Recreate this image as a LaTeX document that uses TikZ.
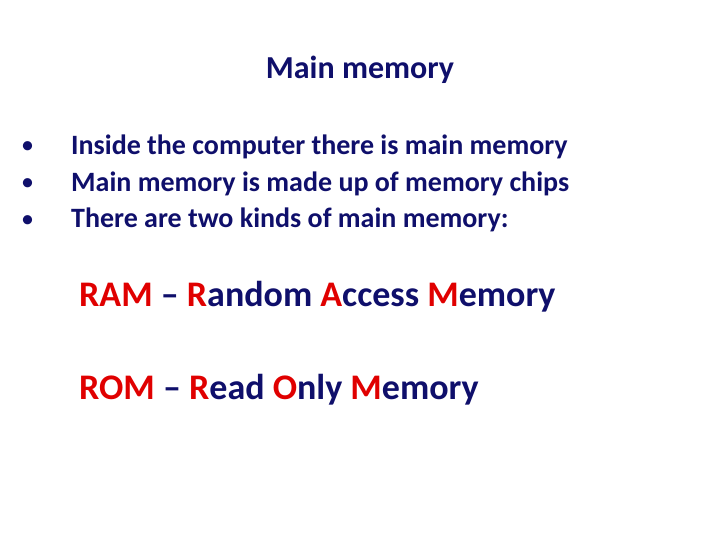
\documentclass[tikz,border=0pt]{standalone}
\usepackage{fontspec}
\setmainfont{Carlito}
\definecolor{navy}{HTML}{0F0F6B}
\definecolor{rd}{HTML}{E00000}
\begin{document}
\begin{tikzpicture}[x=1pt,y=-1pt,
  t/.style={anchor=base west,inner sep=0pt,text=navy,font=\bfseries\fontsize{32}{36}\selectfont},
  b/.style={anchor=base west,inner sep=0pt,text=navy,font=\bfseries\fontsize{28}{32}\selectfont},
  big/.style={anchor=base west,inner sep=0pt,text=navy,font=\bfseries\fontsize{36}{40}\selectfont}]
\useasboundingbox[fill=white] (0,0) rectangle (720,540);
\node[t,anchor=base] (title) at (360,79) {Main memory};
\foreach \y/\s [count=\i] in {155/Inside the computer there is main memory,192/Main memory is made up of memory chips,228/There are two kinds of main memory:}{
  \node[b,font=\fontsize{26}{30}\selectfont] (d\i) at (21,\y-1) {•};
  \node[b] (l\i) at (71,\y) {\s};
}
\node[big] (ram) at (79,306) {\textcolor{rd}{RAM} – \textcolor{rd}{R}andom \textcolor{rd}{A}ccess \textcolor{rd}{M}emory};
\node[big] (rom) at (79,399) {\textcolor{rd}{ROM} – \textcolor{rd}{R}ead \textcolor{rd}{O}nly \textcolor{rd}{M}emory};
\end{tikzpicture}
\end{document}
